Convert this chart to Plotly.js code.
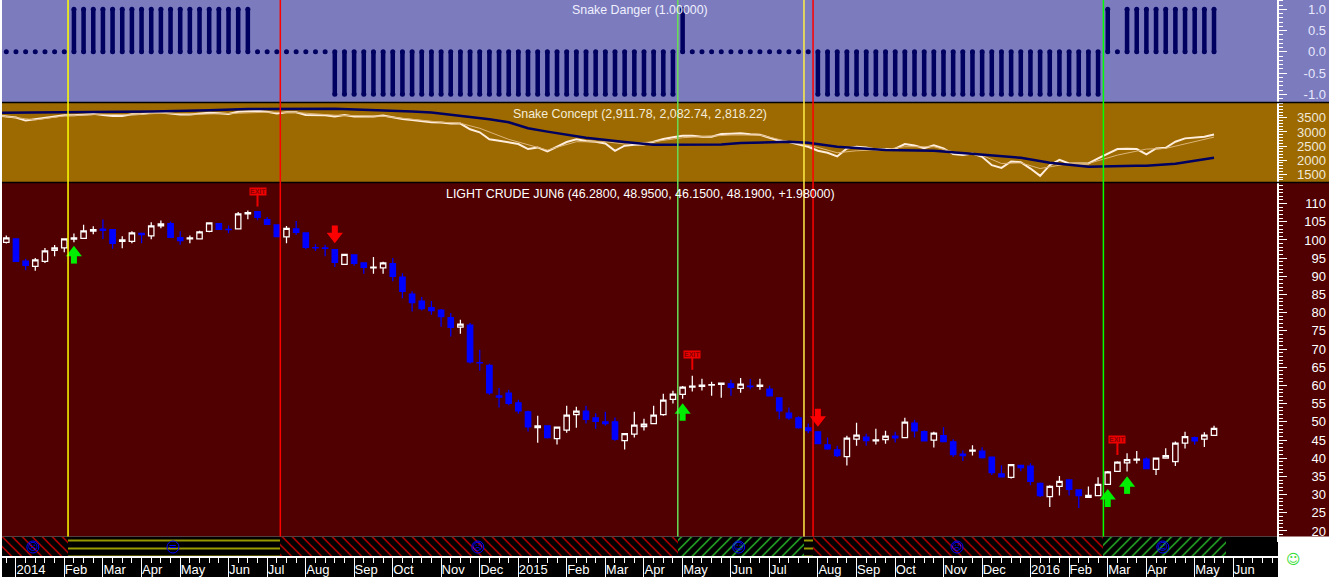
<!DOCTYPE html>
<html><head><meta charset="utf-8">
<script src="https://cdn.plot.ly/plotly-3.0.1.min.js"></script>
<style>html,body{margin:0;padding:0;background:#fff}#c{width:1329px;height:577px}</style>
</head><body><div id="c"></div>
<script>
const openP=[99.35,100.27,94.2,92.75,94.1,97.15,97.8,100.2,100.45,102.4,103.0,102.85,99.63,99.63,101.83,101.1,103.85,104.5,100.64,100.27,100.27,102.38,104.49,102.93,103.02,107.15,107.79,105.59,104.12,100.82,103.02,101.92,97.9,97.8,97.33,93.3,95.87,93.67,92.29,92.29,93.48,89.81,85.13,83.21,81.37,80.73,78.63,76.06,76.61,66.3,65.51,57.16,57.89,55.23,52.76,48.44,48.9,45.42,47.71,52.02,52.94,51.1,50.0,50.0,44.87,46.61,48.72,49.54,52.02,56.15,57.53,59.54,59.73,60.1,60.28,60.46,59.18,59.85,59.73,58.99,56.61,52.39,51.1,48.35,47.25,43.67,42.3,40.46,45.23,45.78,44.77,45.14,46.06,45.69,49.63,47.34,44.95,46.24,44.5,41.1,41.93,41.93,40.28,35.69,34.77,38.07,37.8,33.12,29.45,32.29,34.04,31.29,29.27,29.73,32.84,36.42,38.72,39.45,39.73,36.97,40,39.08,44.13,45.69,45.23,46.28];
const highP=[101.2,100.3,94.8,95.05,97.8,98.6,100.3,101.75,104.2,103.75,105.6,102.85,101,102.4,101.83,104.86,105.32,105.04,102.38,101.19,102.56,104.86,104.49,103.94,107.7,108.07,107.79,106.33,104.12,103.85,105.22,101.92,98.8,98.71,97.33,96.05,95.87,93.67,95.32,94.03,95.04,90.82,85.87,84.31,83.21,81,79.91,78.08,77.16,69.82,65.97,59.27,58.81,56.06,53.03,51.65,48.9,48.54,54.41,54.13,54.41,52.39,52.76,51.2,46.79,52.76,50.83,54.41,57.71,58.54,59.82,62.66,61.84,61.01,60.65,61.56,62.02,61.75,61.84,59.91,56.79,53.95,51.56,49.54,47.25,45.69,43.4,46.15,49.73,46.7,48.08,47.53,47.25,51.1,50.55,47.62,47.25,48.53,45.23,42.11,43.58,43.03,40.28,38.07,38.26,38.07,38.63,33.3,32.57,35.14,34.04,31.29,32.2,34.77,36.52,39.18,41.38,42.02,40.18,40,42.75,44.59,47.25,45.96,47.16,48.95];
const lowP=[99.0,94.1,91.65,91.55,93.65,95.5,96.6,99.35,100.45,101.55,100.27,97.6,97.7,99.08,99.08,100.18,103.2,100.73,98.71,99.08,100.09,102.1,102.93,101.83,102.93,105.68,105.41,104.12,100.73,99.08,101.37,97.43,96.97,95.5,92.56,93.3,92.93,90.73,90.73,90.73,88.62,83.94,80.36,80.64,79.45,76.14,73.49,74.22,66.06,64.04,57.43,53.95,54.59,52.2,47.34,44.22,45.42,43.77,46.98,48.35,49.54,48.08,48.9,44.77,42.39,45.69,47.62,49.54,51.65,55.05,56.33,58.35,58.63,57.16,56.61,57.16,57.98,58.99,58.81,57.16,50.74,50.55,48.08,46.88,44.04,42.3,40.37,37.99,43.4,43.4,43.77,43.95,44.31,45.69,45.69,44.77,42.94,44.59,40.37,39.27,40.74,39.91,35.41,34.86,34.4,36.42,32.57,29.36,26.61,29.73,29.73,26.33,29.27,29.73,32.66,36.33,36.33,38.53,36.97,35.41,40,37.89,42.66,43.67,43.12,46.15];
const closeP=[100.55,94.12,93.0,94.5,96.97,97.8,100.27,100.55,102.47,102.85,102.65,99.08,100,101.92,101.46,103.85,104.4,100.73,99.81,100.55,102.2,104.67,102.93,102.84,107.15,107.52,106.23,104.31,100.91,103.2,102.1,97.98,97.8,97.7,93.85,96.05,93.57,92.47,92.56,93.67,89.99,85.87,82.75,81.1,80.55,78.89,75.97,76.88,66.52,66.2,57.98,56.79,55.05,53.03,48.63,48.9,45.69,48.54,51.84,52.94,50.65,50.1,49.54,45.23,46.79,49.09,49.36,51.84,55.97,57.62,59.54,59.82,60.09,60.2,60.65,59.45,60.37,59.7,60.09,57.16,53.03,51.1,48.44,47.62,44.04,42.57,40.74,45.51,46.33,44.87,45.05,46.06,45.6,49.91,47.52,44.77,46.88,44.59,41.01,40.74,42.2,40.18,36.06,34.86,38.26,37.43,33.67,29.73,32.29,33.67,31.47,29.73,29.82,32.84,36.24,38.9,39.63,39.73,37.16,40,40.73,44.13,45.96,44.77,46.33,48.19];

const dangerVals=[0,0,0,0,0,0,0,1,1,1,1,1,1,1,1,1,1,1,1,1,1,1,1,1,1,1,0,0,0,0,0,0,0,0,-1,-1,-1,-1,-1,-1,-1,-1,-1,-1,-1,-1,-1,-1,-1,-1,-1,-1,-1,-1,-1,-1,-1,-1,-1,-1,-1,-1,-1,-1,-1,-1,-1,-1,-1,-1,1,0,0,0,0,0,0,0,0,0,0,0,0,0,-1,-1,-1,-1,-1,-1,-1,-1,-1,-1,-1,-1,-1,-1,-1,-1,-1,-1,-1,-1,-1,-1,-1,-1,-1,-1,-1,-1,-1,-1,1,0,1,1,1,1,1,1,1,1,1,1];

const conceptFast=[3571,3559,3511,3404,3452,3476,3547,3595,3595,3618,3642,3606,3571,3571,3630,3642,3690,3690,3642,3618,3618,3642,3678,3666,3642,3714,3737,3749,3714,3654,3702,3702,3606,3595,3595,3547,3606,3547,3547,3547,3583,3511,3464,3428,3380,3345,3333,3297,3297,3095,2988,2738,2690,2631,2571,2393,2452,2309,2476,2643,2738,2678,2654,2595,2333,2512,2547,2559,2654,2750,2809,2869,2869,2833,2833,2928,2940,2952,2916,2904,2797,2690,2643,2559,2476,2333,2262,2131,2416,2476,2452,2381,2393,2405,2571,2524,2428,2524,2416,2214,2179,2238,2119,1822,1727,1952,1929,1702,1441,1822,2012,1881,1881,1881,2060,2238,2393,2405,2393,2202,2416,2440,2654,2773,2797,2833,2911.78];
const slowIdx=[-0.44,0,3,6,10,13,16,20,24,27,30,34,39,45,47,49,52,55,56,59,62,64,67,70,75,78,81,84,86,88,91,93,96,98,101,103,105,107,110,112,115,118,120,125];
const slowVals=[3560,3547,3428,3571,3630,3606,3666,3630,3666,3702,3690,3595,3559,3345,3309,3131,2738,2452,2357,2654,2654,2571,2654,2797,2892,2892,2654,2452,2262,2333,2381,2476,2476,2298,2167,1881,1905,1702,1881,1881,2179,2393,2416,2818.22];
const trendIdx=[-0.44,9,15,21,25,34,39,42,44,45,46,48,50,52,54,56,60,64,67,74,76,81,83,86,90,91,96,101,105,108,112,117,118,121,123,125];
const trendVals=[3678,3702,3731,3773,3815,3821,3773,3725,3690,3654,3618,3547,3452,3345,3130,3012,2797,2643,2547,2559,2607,2654,2619,2476,2381,2357,2333,2202,2083,1905,1762,1798,1798,1869,1988,2082.74];

const signalIdx=[6.39,28.36,69.5,82.56,83.5,113.55];
const signalColors=['#ffff00','#ff0000','#66dd55','#ffee44','#ff0000','#00ff00'];

const stripStart=[-0.45,6.39,28.36,69.5,82.56,83.5,113.55];
const stripEnd=[6.39,28.36,69.5,82.56,83.5,113.55,126.2];
const stripShape=['\\','-','\\','/','-','\\','/'];
const stripColor=['#ff0000','#ffff00','#ff0000','#33ee33','#ffff00','#ff0000','#33ee33'];
const stripSize=[7.07,8,7.07,7.07,8,7.07,7.07];
const stripSolid=[0.17,0.15,0.17,0.17,0.15,0.17,0.17];
const faceIdx=[2.75,17.25,48.8,75.8,98.4,119.7];
const faceText=['☹','=','☹','☺','☹','☺'];

const upArrowIdx=[7,70,114,116];
const upArrowTip=[98.45,55.2,31.6,35.1];
const upArrowTail=[93.5,50.3,26.6,30.2];
const downArrowIdx=[34,84];
const downArrowTip=[99.0,48.6];
const downArrowTail=[103.95,53.6];
const exitIdx=[26,71,115];
const exitTip=[109.2,64.3,40.9];
const exitSign=[113.4,68.4,45.2];

const monthIdx=[1,6,10,14,18,23,27,31,36,40,45,49,53,58,62,66,70,75,79,84,88,92,97,101,106,110,114,118,123,127];
const monthText=['2014','Feb','Mar','Apr','May','Jun','Jul','Aug','Sep','Oct','Nov','Dec','2015','Feb','Mar','Apr','May','Jun','Jul','Aug','Sep','Oct','Nov','Dec','2016','Feb','Mar','Apr','May','Jun'];
const priceTicks=[20,25,30,35,40,45,50,55,60,65,70,75,80,85,90,95,100,105,110];
const conceptTicks=[1500,2000,2500,3000,3500];
const dangerTicks=[-1,-0.5,0,0.5,1];

const W=1329,H=577;
const px=v=>v/W, py=v=>1-v/H;
const idx=openP.map((_,i)=>i);
const fastIdx=[-0.44].concat(idx);
const font='"Liberation Sans",Arial,sans-serif';
const xRange=[-0.445,136.9];

function pairs(xs,a,b){const X=[],Y=[];xs.forEach((x,i)=>{X.push(x,x,null);Y.push(a[i],b[i],null)});return [X,Y];}
const dX=[],dY=[];dangerVals.forEach((v,i)=>{ if(v===0){dX.push(i,null);dY.push(0,null)} else {dX.push(i,i,null);dY.push(0,v,null)} });
const [upX,upY]=pairs(upArrowIdx,upArrowTail,upArrowTip.map(v=>v-1.5));
const [dnX,dnY]=pairs(downArrowIdx,downArrowTail,downArrowTip.map(v=>v+1.5));
const [exX,exY]=pairs(exitIdx,exitTip,exitSign);
const holder=(xa,ya)=>({type:'scatter',mode:'none',x:[0],y:[null],xaxis:xa,yaxis:ya,hoverinfo:'skip',showlegend:false});

const traces=[
 {type:'scatter',mode:'lines+markers',x:dX,y:dY,yaxis:'y3',line:{color:'#000060',width:4.5},marker:{color:'#000060',size:5},connectgaps:false,hoverinfo:'skip',showlegend:false},
 {type:'scatter',mode:'lines',x:fastIdx,y:conceptFast,yaxis:'y2',line:{color:'#ffeedd',width:2},hoverinfo:'skip',showlegend:false},
 {type:'scatter',mode:'lines',x:slowIdx,y:slowVals,yaxis:'y2',line:{color:'#dcb478',width:1},hoverinfo:'skip',showlegend:false},
 {type:'scatter',mode:'lines',x:trendIdx,y:trendVals,yaxis:'y2',line:{color:'#000060',width:2.5},hoverinfo:'skip',showlegend:false},
 {type:'candlestick',x:idx,open:openP,high:highP,low:lowP,close:closeP,yaxis:'y',whiskerwidth:0,
  increasing:{line:{color:'#ffffff',width:1.25},fillcolor:'rgba(0,0,0,0)'},
  decreasing:{line:{color:'#0000ff',width:1.25},fillcolor:'#0000ff'},hoverinfo:'skip',showlegend:false},
 {type:'scatter',mode:'lines',x:upX,y:upY,yaxis:'y',line:{color:'#00ee00',width:6},hoverinfo:'skip',showlegend:false},
 {type:'scatter',mode:'markers',x:upArrowIdx,y:upArrowTip.map(v=>v-2),yaxis:'y',marker:{symbol:'triangle-up',size:14,color:'#00ee00'},hoverinfo:'skip',showlegend:false},
 {type:'scatter',mode:'lines',x:dnX,y:dnY,yaxis:'y',line:{color:'#ff0000',width:6},hoverinfo:'skip',showlegend:false},
 {type:'scatter',mode:'markers',x:downArrowIdx,y:downArrowTip.map(v=>v+2),yaxis:'y',marker:{symbol:'triangle-down',size:14,color:'#ff0000'},hoverinfo:'skip',showlegend:false},
 {type:'scatter',mode:'lines',x:exX,y:exY,yaxis:'y',line:{color:'#ee0000',width:2},hoverinfo:'skip',showlegend:false},
 {type:'bar',x:stripStart.map((s,i)=>(s+stripEnd[i])/2),width:stripStart.map((s,i)=>stripEnd[i]-s),y:stripStart.map(()=>1),yaxis:'y4',
  marker:{color:'#000000',line:{width:0},pattern:{shape:stripShape,fgcolor:stripColor,bgcolor:'#000000',size:stripSize,solidity:stripSolid,fillmode:'replace'}},hoverinfo:'skip',showlegend:false},
 {type:'scatter',mode:'markers+text',x:faceIdx,y:faceIdx.map(()=>0.5),yaxis:'y4',text:faceText,textposition:'middle center',
  textfont:{family:'"DejaVu Sans"',size:10,color:'#0000ff'},marker:{symbol:'circle-open',size:12,color:'#0000ff',line:{width:1,color:'#0000ff'}},hoverinfo:'skip',showlegend:false},
 holder('x','y5'),holder('x2','y5'),holder('x','y6'),holder('x','y7'),holder('x','y8')
];

function bg(x0,x1,y0,y1,c){return {type:'rect',layer:'below',xref:'paper',yref:'paper',x0:px(x0),x1:px(x1),y0:py(y1),y1:py(y0),fillcolor:c,line:{width:0}};}
const shapes=[
 bg(2,W,0,102.5,'#7b7bbd'),bg(2,W,102.5,182.5,'#9d6a02'),bg(2,W,182.5,536.5,'#500000'),bg(2,1278,536.5,H,'#000000'),
 {type:'line',xref:'paper',yref:'paper',x0:px(2),x1:1,y0:py(102.5),y1:py(102.5),line:{color:'#000',width:1.5}},
 {type:'line',xref:'paper',yref:'paper',x0:px(2),x1:1,y0:py(182.5),y1:py(182.5),line:{color:'#000',width:1.5}}
];
signalIdx.forEach((v,i)=>shapes.push({type:'line',xref:'x',yref:'paper',x0:v,x1:v,y0:py(536.5),y1:1,line:{color:signalColors[i],width:1.5}}));

function labelAxis(domain,range,ticks,color,txt){return {domain,range,side:'right',anchor:'free',position:1,tickmode:'array',tickvals:ticks,ticktext:txt,ticklabelposition:'inside',ticks:'',showgrid:false,zeroline:false,showline:false,tickfont:{family:font,size:13,color},fixedrange:true};}
function tickAxis(over,domain,range,ticks,minorStep){return {overlaying:over,domain,range,side:'right',anchor:'free',position:1278/W,tickmode:'array',tickvals:ticks,ticks:'outside',ticklen:8,tickwidth:1,tickcolor:'#fff',showticklabels:false,showgrid:false,zeroline:false,showline:true,linecolor:'#fff',linewidth:2,minor:{ticks:'outside',ticklen:4,tickwidth:1,tickcolor:'#fff',dtick:minorStep,showgrid:false},fixedrange:true};}
const mainD=[py(541.5),py(182.5)],midD=[py(182.5),py(102.5)],topD=[py(102.5),1];
const mainR=[17.11,115.79],midR=[1207,4046],topR=[-1.193,1.219];
const fmtD=dangerTicks.map(v=>v.toFixed(1));

const anno=(x,y,t,c,size)=>({xref:'paper',yref:'paper',x:px(x),y:py(y),text:t,showarrow:false,xanchor:'center',yanchor:'middle',font:{family:font,size:size||12.4,color:c}});
const annotations=[
 anno(640,10,'Snake Danger (1.00000)','#f0f0ff'),
 anno(640,114,'Snake Concept (2,911.78, 2,082.74, 2,818.22)','#f4ecd8'),
 anno(640,194,'LIGHT CRUDE JUN6 (46.2800, 48.9500, 46.1500, 48.1900, +1.98000)','#ffffff'),
 {xref:'paper',yref:'paper',x:px(1303),y:py(569),text:'☺',showarrow:false,font:{family:'"DejaVu Sans"',size:14,color:'#33dd33'}}
];
exitIdx.forEach((v,i)=>annotations.push({xref:'x',yref:'y',x:v,y:exitSign[i],text:'<b>EXIT</b>',showarrow:false,bgcolor:'#ee0000',borderpad:0,font:{family:font,size:7,color:'#880000'}}));

const layout={
 width:W,height:H,margin:{l:0,r:0,t:0,b:0},paper_bgcolor:'#ffffff',plot_bgcolor:'rgba(0,0,0,0)',showlegend:false,dragmode:false,
 boxgap:0.2,bargap:0,shapes,annotations,
 xaxis:{domain:[px(2),1],range:xRange,anchor:'y5',side:'bottom',tickmode:'array',tickvals:monthIdx,ticktext:monthText,ticklabelposition:'inside right',ticklabelstandoff:-6,ticks:'inside',ticklen:19,tickwidth:1,tickcolor:'#fff',showgrid:false,zeroline:false,showline:false,tickfont:{family:font,size:13,color:'#fff'},rangeslider:{visible:false},fixedrange:true},
 xaxis2:{overlaying:'x',matches:'x',domain:[px(2),1],range:xRange,anchor:'y5',side:'top',tickmode:'linear',tick0:0,dtick:1,ticks:'inside',ticklen:5,tickwidth:1,tickcolor:'#fff',showticklabels:false,showgrid:false,zeroline:false,showline:true,linecolor:'#fff',linewidth:1.5,fixedrange:true},
 yaxis:labelAxis(mainD,mainR,priceTicks,'#ffffff',priceTicks.map(String)),
 yaxis2:labelAxis(midD,midR,conceptTicks,'#f0e8d8',conceptTicks.map(String)),
 yaxis3:labelAxis(topD,topR,dangerTicks,'#e8e8ff',fmtD),
 yaxis4:{domain:[py(557.5),py(536.5)],range:[0,1],visible:false,fixedrange:true},
 yaxis5:{domain:[0,py(557.5)],range:[0,1],visible:false,fixedrange:true},
 yaxis6:tickAxis('y',mainD,mainR,priceTicks,1),
 yaxis7:tickAxis('y2',midD,midR,conceptTicks,100),
 yaxis8:tickAxis('y3',topD,topR,dangerTicks,0.1)
};
Plotly.newPlot('c',traces,layout,{displayModeBar:false,staticPlot:true});
</script></body></html>
